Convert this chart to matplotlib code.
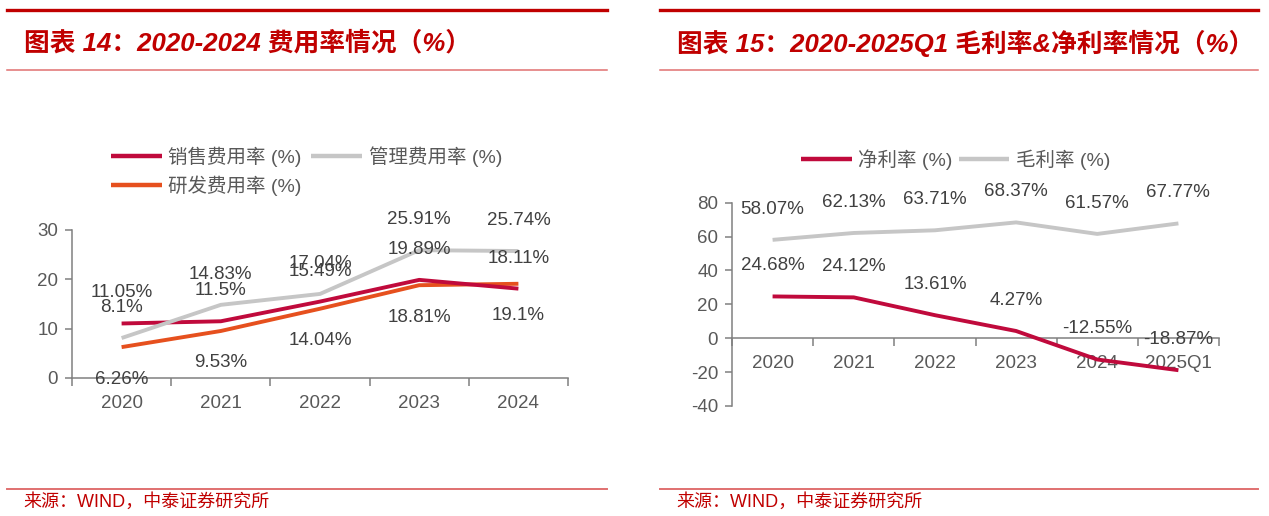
import matplotlib
matplotlib.use('Agg')
import matplotlib.pyplot as plt
from matplotlib.lines import Line2D
import numpy as np

plt.rcParams['font.family'] = ['Liberation Sans', 'Noto Sans CJK SC', 'DejaVu Sans']
plt.rcParams['axes.unicode_minus'] = False

# left chart data: expense ratios
years_l = ['2020', '2021', '2022', '2023', '2024']
sales = [11.05, 11.5, 15.49, 19.89, 18.11]
admin = [8.1, 14.83, 17.04, 25.91, 25.74]
rnd = [6.26, 9.53, 14.04, 18.81, 19.1]

# right chart data: gross / net margin
years_r = ['2020', '2021', '2022', '2023', '2024', '2025Q1']
gross = [58.07, 62.13, 63.71, 68.37, 61.57, 67.77]
net = [24.68, 24.12, 13.61, 4.27, -12.55, -18.87]

W, H = 1269, 516
RED = '#C00000'
CRIMSON = '#C00A3C'
ORANGE = '#E6501E'
GRAY = '#C6C6C6'
AXC = '#808080'
TXT = '#404040'

fig = plt.figure(figsize=(W / 100, H / 100), dpi=100)


def hline(x0, x1, y, lw, color):
    fig.add_artist(Line2D([x0 / W, x1 / W], [1 - y / H, 1 - y / H], lw=lw, color=color,
                          transform=fig.transFigure))


# frames, titles and sources
for x0, x1, title in [(7, 607, '图表 14：2020-2024 费用率情况（%）'),
                      (660, 1258, '图表 15：2020-2025Q1 毛利率&净利率情况（%）')]:
    hline(x0, x1, 10, 2.4, RED)
    hline(x0, x1, 70, 1.1, '#E07070')
    hline(x0, x1, 489, 1.4, '#E07070')
    fig.text((x0 + 17) / W, 1 - 43 / H, title, fontsize=18.5, fontweight='bold', fontstyle='italic',
             color=RED, va='center', ha='left')
    fig.text((x0 + 16) / W, 1 - 502 / H, '来源：WIND，中泰证券研究所', fontsize=13, color=RED,
             va='center', ha='left', family=['Liberation Sans', 'Noto Sans CJK SC'])


def style_axes(ax, n):
    for s in ['top', 'right']:
        ax.spines[s].set_visible(False)
    for s in ['left', 'bottom']:
        ax.spines[s].set_color(AXC)
        ax.spines[s].set_linewidth(1.1)
    ax.set_xlim(-0.5, n - 0.5)
    ax.set_xticks(np.arange(-0.5, n, 1), minor=True)
    ax.tick_params(axis='x', which='major', length=0, pad=12, labelsize=13.5, labelcolor='#595959')
    ax.tick_params(axis='x', which='minor', length=6, width=1.1, color=AXC, direction='out')
    ax.tick_params(axis='y', length=5, width=1.1, color=AXC, pad=5, labelsize=13.5,
                   labelcolor='#595959')
    ax.set_facecolor('none')


def labels(ax, xs, vals, dy):
    for x, v in zip(xs, vals):
        ax.annotate(f'{v:g}%', (x, v), xytext=(0, dy), textcoords='offset points',
                    ha='center', va='center', fontsize=13.5, color=TXT, zorder=6)


# ---- left chart ----
ax1 = fig.add_axes([72 / W, 1 - 378 / H, 496 / W, 148 / H])
x1 = np.arange(len(years_l))
l_rnd, = ax1.plot(x1, rnd, color=ORANGE, lw=2.8, zorder=3, solid_capstyle='butt')
l_sales, = ax1.plot(x1, sales, color=CRIMSON, lw=2.8, zorder=4, solid_capstyle='butt')
l_admin, = ax1.plot(x1, admin, color=GRAY, lw=2.8, zorder=5, solid_capstyle='butt')
style_axes(ax1, len(years_l))
ax1.set_ylim(0, 30)
ax1.set_yticks([0, 10, 20, 30])
ax1.set_xticks(x1)
ax1.set_xticklabels(years_l)
labels(ax1, x1, sales, 22)
labels(ax1, x1, admin, 22)
labels(ax1, x1, rnd, -23)
leg1 = ax1.legend([l_sales, l_rnd, l_admin], ['销售费用率 (%)', '研发费用率 (%)', '管理费用率 (%)'],
                  ncol=2, loc='upper left', bbox_to_anchor=(111 / W, 1 - 146 / H),
                  bbox_transform=fig.transFigure, frameon=False, fontsize=14,
                  handlelength=2.6, handletextpad=0.35, columnspacing=0.5, borderpad=0,
                  borderaxespad=0, labelspacing=0.45, labelcolor='#595959')
for h in leg1.legend_handles:
    h.set_linewidth(3.2)

# ---- right chart ----
ax2 = fig.add_axes([732 / W, 1 - 406 / H, 487 / W, 203.3 / H])
x2 = np.arange(len(years_r))
l_gross, = ax2.plot(x2, gross, color=GRAY, lw=2.8, zorder=3, solid_capstyle='butt')
l_net, = ax2.plot(x2, net, color=CRIMSON, lw=2.8, zorder=4, solid_capstyle='butt')
style_axes(ax2, len(years_r))
ax2.spines['bottom'].set_position(('data', 0))
ax2.set_ylim(-40, 80)
ax2.set_yticks(np.arange(-40, 81, 20))
ax2.set_xticks(x2)
ax2.set_xticklabels(years_r)
labels(ax2, x2, gross, 22)
labels(ax2, x2, net, 22)
leg2 = ax2.legend([l_net, l_gross], ['净利率 (%)', '毛利率 (%)'],
                  ncol=2, loc='upper left', bbox_to_anchor=(801 / W, 1 - 149 / H),
                  bbox_transform=fig.transFigure, frameon=False, fontsize=14,
                  handlelength=2.6, handletextpad=0.35, columnspacing=0.3, borderpad=0,
                  borderaxespad=0, labelcolor='#595959')
for h in leg2.legend_handles:
    h.set_linewidth(3.2)

fig.savefig('out.png', dpi=100)
